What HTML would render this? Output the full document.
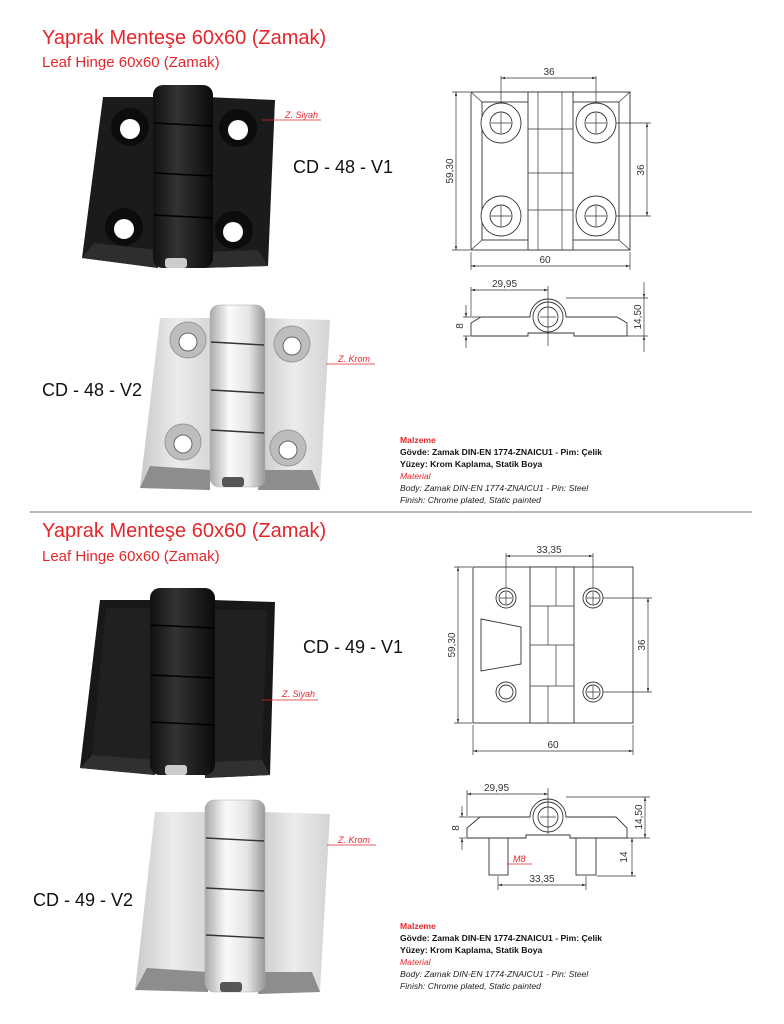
<!DOCTYPE html>
<html><head><meta charset="utf-8"><style>
html,body{margin:0;padding:0;background:#fff}
svg{display:block}
text{font-family:"Liberation Sans",sans-serif}
.t1{fill:#e4262b;font-size:20px}
.t2{fill:#e4262b;font-size:15px}
.cd{fill:#111;font-size:18px}
.z{fill:#e4262b;font-size:9px;font-style:italic}
.m{font-size:8.6px}
.d{fill:#333;font-size:10px}
.dl{stroke:#333;stroke-width:.7;fill:none}
.ol{stroke:#333;stroke-width:.9;fill:#fff}
</style></head><body>
<svg width="784" height="1024" viewBox="0 0 784 1024" xmlns="http://www.w3.org/2000/svg">
<defs>
<marker id="a" viewBox="0 0 10 10" refX="10" refY="5" markerWidth="6" markerHeight="6" orient="auto-start-reverse"><path d="M0,2 L10,5 L0,8z" fill="#333"/></marker>
<linearGradient id="chl" x1="0" x2="1"><stop offset="0" stop-color="#c9c9c9"/><stop offset=".5" stop-color="#ececec"/><stop offset="1" stop-color="#d4d4d4"/></linearGradient>
<linearGradient id="chb" x1="0" x2="1"><stop offset="0" stop-color="#aaa"/><stop offset=".35" stop-color="#fafafa"/><stop offset=".7" stop-color="#e6e6e6"/><stop offset="1" stop-color="#999"/></linearGradient>
<linearGradient id="bkb" x1="0" x2="1"><stop offset="0" stop-color="#111"/><stop offset=".4" stop-color="#333"/><stop offset="1" stop-color="#0a0a0a"/></linearGradient>
</defs>

<text class="t1" x="42" y="44">Yaprak Menteşe 60x60 (Zamak)</text>
<text class="t2" x="42" y="67">Leaf Hinge 60x60 (Zamak)</text>
<text class="t1" x="42" y="537">Yaprak Menteşe 60x60 (Zamak)</text>
<text class="t2" x="42" y="561">Leaf Hinge 60x60 (Zamak)</text>
<line x1="30" y1="512" x2="752" y2="512" stroke="#777" stroke-width="1"/>

<g>
<polygon points="103,97 165,97 158,268 82,258" fill="#1b1b1b"/>
<polygon points="205,97 275,100 268,266 200,268" fill="#1b1b1b"/>
<polygon points="82,258 158,268 158,250 94,243" fill="#2e2e2e"/>
<polygon points="200,268 268,266 258,250 203,252" fill="#2e2e2e"/>
<rect x="153" y="85" width="60" height="183" rx="10" fill="url(#bkb)"/>
<g stroke="#000" stroke-width="1.5"><line x1="154" y1="123" x2="212" y2="126"/><line x1="154" y1="173" x2="212" y2="176"/><line x1="154" y1="215" x2="212" y2="218"/></g>
<rect x="165" y="258" width="22" height="10" rx="3" fill="#ccc"/>
<g fill="#0c0c0c"><circle cx="130" cy="127" r="19"/><circle cx="238" cy="128" r="19"/><circle cx="124" cy="227" r="19"/><circle cx="234" cy="230" r="19"/></g>
<g fill="#fff"><circle cx="130" cy="129" r="10"/><circle cx="238" cy="130" r="10"/><circle cx="124" cy="229" r="10"/><circle cx="233" cy="232" r="10"/></g>
</g>
<line x1="262" y1="120" x2="321" y2="120" stroke="#e4262b" stroke-width=".8"/>
<text class="z" x="285" y="118">Z. Siyah</text>
<text class="cd" x="293" y="173">CD - 48 - V1</text>

<g>
<polygon points="160,318 215,318 210,490 140,488" fill="url(#chl)"/>
<polygon points="263,318 330,320 320,490 258,490" fill="url(#chl)"/>
<polygon points="140,488 210,490 210,470 150,466" fill="#8d8d8d"/>
<polygon points="258,490 320,490 312,470 260,470" fill="#8d8d8d"/>
<rect x="210" y="305" width="55" height="182" rx="9" fill="url(#chb)" stroke="#aaa" stroke-width=".5"/>
<g stroke="#333" stroke-width="1.4"><line x1="211" y1="342" x2="264" y2="345"/><line x1="211" y1="390" x2="264" y2="393"/><line x1="211" y1="430" x2="264" y2="433"/></g>
<rect x="222" y="477" width="22" height="10" rx="3" fill="#555"/>
<g fill="#bdbdbd" stroke="#999"><circle cx="188" cy="340" r="18"/><circle cx="292" cy="344" r="18"/><circle cx="183" cy="442" r="18"/><circle cx="288" cy="448" r="18"/></g>
<g fill="#fff" stroke="#666"><circle cx="188" cy="342" r="9"/><circle cx="292" cy="346" r="9"/><circle cx="183" cy="444" r="9"/><circle cx="288" cy="450" r="9"/></g>
</g>
<line x1="326" y1="364" x2="375" y2="364" stroke="#e4262b" stroke-width=".8"/>
<text class="z" x="338" y="362">Z. Krom</text>
<text class="cd" x="42" y="396">CD - 48 - V2</text>

<g>
<polygon points="100,600 160,600 155,775 80,768" fill="#181818"/>
<polygon points="212,600 275,602 270,775 205,778" fill="#181818"/>
<polygon points="106,608 155,608 152,760 92,755" fill="#202020"/>
<polygon points="215,610 267,610 262,760 210,762" fill="#202020"/>
<polygon points="80,768 155,775 155,760 92,755" fill="#303030"/>
<polygon points="205,778 270,775 262,760 210,762" fill="#303030"/>
<rect x="150" y="588" width="65" height="187" rx="10" fill="url(#bkb)"/>
<g stroke="#000" stroke-width="1.5"><line x1="151" y1="625" x2="214" y2="628"/><line x1="151" y1="675" x2="214" y2="678"/><line x1="151" y1="722" x2="214" y2="725"/></g>
<rect x="165" y="765" width="22" height="10" rx="3" fill="#ccc"/>
</g>
<line x1="262" y1="700" x2="318" y2="700" stroke="#e4262b" stroke-width=".8"/>
<text class="z" x="282" y="697">Z. Siyah</text>
<text class="cd" x="303" y="653">CD - 49 - V1</text>

<g>
<polygon points="155,812 210,812 208,992 135,990" fill="url(#chl)"/>
<polygon points="262,812 330,814 320,992 258,994" fill="url(#chl)"/>
<polygon points="135,990 208,992 208,972 147,968" fill="#8d8d8d"/>
<polygon points="258,994 320,992 312,972 260,972" fill="#8d8d8d"/>
<rect x="205" y="800" width="60" height="192" rx="9" fill="url(#chb)" stroke="#aaa" stroke-width=".5"/>
<g stroke="#333" stroke-width="1.4"><line x1="206" y1="838" x2="264" y2="841"/><line x1="206" y1="888" x2="264" y2="891"/><line x1="206" y1="935" x2="264" y2="938"/></g>
<rect x="220" y="982" width="22" height="10" rx="3" fill="#555"/>
</g>
<line x1="327" y1="845" x2="376" y2="845" stroke="#e4262b" stroke-width=".8"/>
<text class="z" x="338" y="843">Z. Krom</text>
<text class="cd" x="33" y="906">CD - 49 - V2</text>

<g>
<rect class="ol" x="471" y="92" width="159" height="158"/>
<rect class="ol" x="482" y="102" width="137" height="138"/>
<g class="dl"><line x1="471" y1="92" x2="482" y2="102"/><line x1="630" y1="92" x2="619" y2="102"/><line x1="471" y1="250" x2="482" y2="240"/><line x1="630" y1="250" x2="619" y2="240"/></g>
<rect class="ol" x="528" y="92" width="45" height="158"/>
<g class="dl"><line x1="538" y1="92" x2="538" y2="250"/><line x1="562" y1="92" x2="562" y2="250"/><line x1="528" y1="129" x2="573" y2="129"/><line x1="528" y1="173" x2="573" y2="173"/><line x1="528" y1="210" x2="573" y2="210"/></g>
<g class="ol"><circle cx="501" cy="123" r="20"/><circle cx="596" cy="123" r="20"/><circle cx="501" cy="216" r="20"/><circle cx="596" cy="216" r="20"/>
<circle cx="501" cy="123" r="11"/><circle cx="596" cy="123" r="11"/><circle cx="501" cy="216" r="11"/><circle cx="596" cy="216" r="11"/></g>
<g class="dl"><path d="M491,123h20M501,113v20M586,123h20M596,113v20M491,216h20M501,206v20M586,216h20M596,206v20"/>
<line x1="501" y1="76" x2="501" y2="103"/><line x1="596" y1="76" x2="596" y2="103"/>
<line x1="501" y1="78" x2="596" y2="78" marker-start="url(#a)" marker-end="url(#a)"/>
<line x1="452" y1="92" x2="470" y2="92"/><line x1="452" y1="250" x2="470" y2="250"/>
<line x1="456" y1="92" x2="456" y2="250" marker-start="url(#a)" marker-end="url(#a)"/>
<line x1="616" y1="123" x2="651" y2="123"/><line x1="616" y1="216" x2="651" y2="216"/>
<line x1="647" y1="123" x2="647" y2="216" marker-start="url(#a)" marker-end="url(#a)"/>
<line x1="471" y1="252" x2="471" y2="270"/><line x1="630" y1="252" x2="630" y2="270"/>
<line x1="471" y1="266" x2="630" y2="266" marker-start="url(#a)" marker-end="url(#a)"/></g>
<text class="d" x="549" y="75" text-anchor="middle">36</text>
<text class="d" x="545" y="263" text-anchor="middle">60</text>
<text class="d" transform="translate(453,171) rotate(-90)" text-anchor="middle">59,30</text>
<text class="d" transform="translate(644,170) rotate(-90)" text-anchor="middle">36</text>
<path class="ol" d="M471,336 V323 L481,317 H530 A18,18 0 0 1 566,317 H617 L627,323 V336 H574 V333 H528 V336 Z"/>
<g class="ol"><circle cx="548" cy="317" r="15"/><circle cx="548" cy="317" r="10"/></g>
<g class="dl"><path d="M540,317h16M548,309v16M548,286v60"/>
<line x1="471" y1="287" x2="471" y2="316"/>
<line x1="471" y1="290" x2="548" y2="290" marker-start="url(#a)" marker-end="url(#a)"/>
<line x1="566" y1="298" x2="648" y2="298"/><line x1="627" y1="336" x2="648" y2="336"/>
<line x1="644" y1="282" x2="644" y2="298" marker-end="url(#a)"/><line x1="644" y1="352" x2="644" y2="336" marker-end="url(#a)"/>
<line x1="644" y1="298" x2="644" y2="336"/>
<line x1="463" y1="317" x2="480" y2="317"/><line x1="463" y1="336" x2="470" y2="336"/>
<line x1="466" y1="305" x2="466" y2="317" marker-end="url(#a)"/><line x1="466" y1="348" x2="466" y2="336" marker-end="url(#a)"/></g>
<text class="d" x="492" y="287">29,95</text>
<text class="d" transform="translate(641,317) rotate(-90)" text-anchor="middle">14,50</text>
<text class="d" transform="translate(463,326) rotate(-90)" text-anchor="middle">8</text>
</g>

<g>
<rect class="ol" x="473" y="567" width="160" height="156"/>
<rect class="ol" x="530" y="567" width="44" height="156"/>
<g class="dl"><line x1="556" y1="567" x2="556" y2="606"/><line x1="548" y1="606" x2="548" y2="645"/><line x1="556" y1="645" x2="556" y2="686"/><line x1="548" y1="686" x2="548" y2="723"/>
<line x1="530" y1="606" x2="574" y2="606"/><line x1="530" y1="645" x2="574" y2="645"/><line x1="530" y1="686" x2="574" y2="686"/></g>
<polygon class="ol" points="481,619 521,627 521,664 481,671"/>
<g class="ol"><circle cx="506" cy="598" r="10"/><circle cx="593" cy="598" r="10"/><circle cx="506" cy="692" r="10"/><circle cx="593" cy="692" r="10"/>
<circle cx="506" cy="598" r="7"/><circle cx="593" cy="598" r="7"/><circle cx="506" cy="692" r="7"/><circle cx="593" cy="692" r="7"/></g>
<g class="dl"><path d="M500,598h12M506,592v12M587,598h12M593,592v12M587,692h12M593,686v12"/>
<line x1="506" y1="553" x2="506" y2="588"/><line x1="593" y1="553" x2="593" y2="588"/>
<line x1="506" y1="556" x2="593" y2="556" marker-start="url(#a)" marker-end="url(#a)"/>
<line x1="454" y1="567" x2="472" y2="567"/><line x1="454" y1="723" x2="472" y2="723"/>
<line x1="458" y1="567" x2="458" y2="723" marker-start="url(#a)" marker-end="url(#a)"/>
<line x1="603" y1="598" x2="652" y2="598"/><line x1="603" y1="692" x2="652" y2="692"/>
<line x1="648" y1="598" x2="648" y2="692" marker-start="url(#a)" marker-end="url(#a)"/>
<line x1="473" y1="725" x2="473" y2="755"/><line x1="633" y1="725" x2="633" y2="755"/>
<line x1="473" y1="751" x2="633" y2="751" marker-start="url(#a)" marker-end="url(#a)"/></g>
<text class="d" x="549" y="553" text-anchor="middle">33,35</text>
<text class="d" x="553" y="748" text-anchor="middle">60</text>
<text class="d" transform="translate(455,645) rotate(-90)" text-anchor="middle">59,30</text>
<text class="d" transform="translate(645,645) rotate(-90)" text-anchor="middle">36</text>
<rect class="ol" x="489" y="838" width="19" height="37"/>
<rect class="ol" x="576" y="838" width="20" height="37"/>
<path class="ol" d="M467,838 V828 L480,817 H530 A18,18 0 0 1 566,817 H616 L627,828 V838 H570 V835 H526 V838 Z"/>
<g class="ol"><circle cx="548" cy="817" r="15"/><circle cx="548" cy="817" r="10"/></g>
<g class="dl"><path d="M540,817h16M548,809v16M548,788v46"/>
<line x1="467" y1="790" x2="467" y2="816"/>
<line x1="467" y1="794" x2="548" y2="794" marker-start="url(#a)" marker-end="url(#a)"/>
<line x1="566" y1="797" x2="650" y2="797"/><line x1="627" y1="838" x2="650" y2="838"/>
<line x1="645" y1="797" x2="645" y2="838" marker-start="url(#a)" marker-end="url(#a)"/>
<line x1="632" y1="838" x2="632" y2="876" marker-start="url(#a)" marker-end="url(#a)"/>
<line x1="597" y1="876" x2="636" y2="876"/>
<line x1="459" y1="817" x2="480" y2="817"/><line x1="459" y1="838" x2="466" y2="838"/>
<line x1="462" y1="806" x2="462" y2="817" marker-end="url(#a)"/><line x1="462" y1="850" x2="462" y2="838" marker-end="url(#a)"/>
<line x1="498" y1="876" x2="498" y2="890"/><line x1="586" y1="876" x2="586" y2="890"/>
<line x1="498" y1="885" x2="586" y2="885" marker-start="url(#a)" marker-end="url(#a)"/></g>
<line x1="507" y1="864" x2="532" y2="864" stroke="#e4262b" stroke-width=".8"/>
<text class="z" x="513" y="862" font-size="10">M8</text>
<text class="d" x="484" y="791">29,95</text>
<text class="d" x="542" y="882" text-anchor="middle">33,35</text>
<text class="d" transform="translate(642,817) rotate(-90)" text-anchor="middle">14,50</text>
<text class="d" transform="translate(627,857) rotate(-90)" text-anchor="middle">14</text>
<text class="d" transform="translate(459,828) rotate(-90)" text-anchor="middle">8</text>
</g>

<g class="m">
<text x="400" y="443" fill="#e4262b" font-weight="bold">Malzeme</text>
<text x="400" y="455" font-weight="bold" fill="#111">Gövde: Zamak DIN-EN 1774-ZNAICU1 - Pim: Çelik</text>
<text x="400" y="467" font-weight="bold" fill="#111">Yüzey: Krom Kaplama, Statik Boya</text>
<text x="400" y="479" fill="#e4262b" font-style="italic">Material</text>
<text x="400" y="491" fill="#222" font-style="italic">Body:  Zamak DIN-EN 1774-ZNAICU1 - Pin: Steel</text>
<text x="400" y="503" fill="#222" font-style="italic">Finish: Chrome plated, Static painted</text>
</g>
<g class="m">
<text x="400" y="929" fill="#e4262b" font-weight="bold">Malzeme</text>
<text x="400" y="941" font-weight="bold" fill="#111">Gövde: Zamak DIN-EN 1774-ZNAICU1 - Pim: Çelik</text>
<text x="400" y="953" font-weight="bold" fill="#111">Yüzey: Krom Kaplama, Statik Boya</text>
<text x="400" y="965" fill="#e4262b" font-style="italic">Material</text>
<text x="400" y="977" fill="#222" font-style="italic">Body:  Zamak DIN-EN 1774-ZNAICU1 - Pin: Steel</text>
<text x="400" y="989" fill="#222" font-style="italic">Finish: Chrome plated, Static painted</text>
</g>
</svg>
</body></html>
